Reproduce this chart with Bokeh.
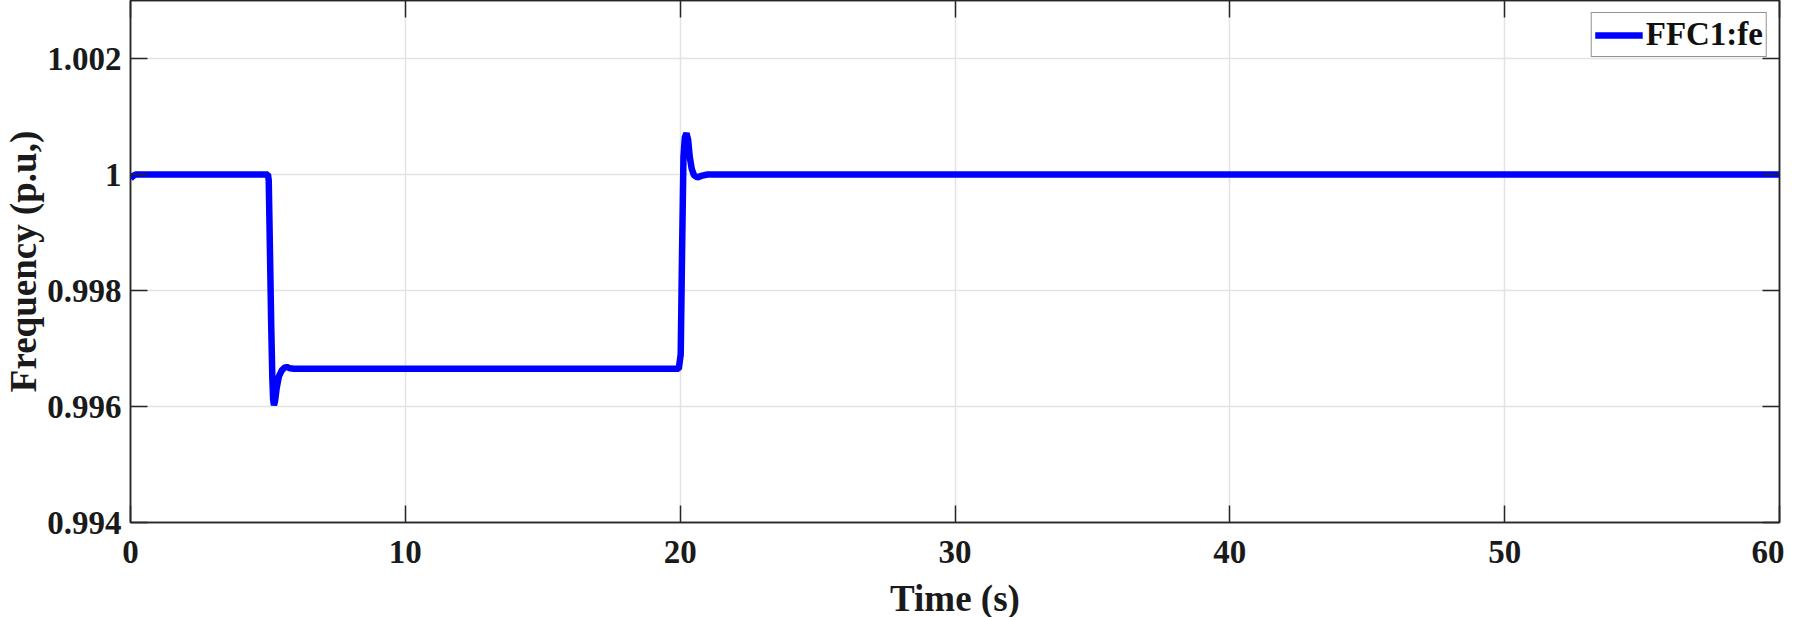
from bokeh.plotting import figure
from bokeh.models import Range1d, LinearAxis, FixedTicker, Legend, LegendItem
from bokeh.embed import file_html
from bokeh.resources import INLINE

# ---- data ----
time_s = [0.0, 0.1, 0.2, 5.0, 5.03, 5.07, 5.12, 5.16, 5.19, 5.22, 5.26, 5.32, 5.40,
          5.50, 5.60, 5.69, 5.80, 5.95, 8.0, 12.0, 16.0, 19.95, 20.02, 20.07, 20.12,
          20.17, 20.23, 20.29, 20.35, 20.42, 20.50, 20.62, 20.80, 21.0, 25.0, 30.0,
          40.0, 50.0, 60.0]
freq_pu = [0.99993, 0.99998, 1.0, 1.0, 0.99990, 0.99880, 0.99740, 0.99650, 0.99612,
           0.99602, 0.99610, 0.99632, 0.99652, 0.99662, 0.99667, 0.99668, 0.99666,
           0.99665, 0.99665, 0.99665, 0.99665, 0.99665, 0.99690, 0.99870, 1.00030,
           1.00064, 1.00071, 1.00060, 1.00030, 1.00010, 0.99999, 0.99995, 0.99998,
           1.0, 1.0, 1.0, 1.0, 1.0, 1.0]
series_name = "FFC1:fe"
x_ticks = [0, 10, 20, 30, 40, 50, 60]
y_ticks = [0.994, 0.996, 0.998, 1.0, 1.002]
y_tick_labels = ["0.994", "0.996", "0.998", "1", "1.002"]

FONT = "Liberation Serif"
AX = "#262626"

p = figure(width=1784, height=621, output_backend="svg",
           toolbar_location=None,
           x_range=Range1d(0, 60), y_range=Range1d(0.994, 1.003),
           min_border_left=0, min_border_right=5, min_border_top=0, min_border_bottom=0)

p.background_fill_color = "white"
p.border_fill_color = "white"
p.outline_line_color = AX
p.outline_line_width = 1.5

r = p.line(time_s, freq_pu, line_color="#0000ff", line_width=6.5)

def style_axis(ax, show_labels=True):
    ax.axis_line_color = AX
    ax.axis_line_width = 1.5
    ax.major_tick_line_color = AX
    ax.major_tick_line_width = 1.5
    ax.major_tick_in = 17
    ax.major_tick_out = 0
    ax.minor_tick_line_color = None
    if show_labels:
        ax.major_label_text_font = FONT
        ax.major_label_text_font_style = "bold"
        ax.major_label_text_font_size = "33px"
        ax.major_label_text_color = "#1a1a1a"
        ax.axis_label_text_font = FONT
        ax.axis_label_text_font_style = "bold"
        ax.axis_label_text_font_size = "37px"
        ax.axis_label_text_color = "#1a1a1a"
    else:
        ax.major_label_text_font_size = "1px"
        ax.major_label_text_color = None
        ax.major_label_standoff = 0
        ax.axis_label = None

xa = p.xaxis[0]
xa.ticker = FixedTicker(ticks=x_ticks)
xa.axis_label = "Time (s)"
style_axis(xa)
xa.major_label_standoff = 18
xa.axis_label_standoff = 12

ya = p.yaxis[0]
ya.ticker = FixedTicker(ticks=y_ticks)
ya.major_label_overrides = dict(zip(y_ticks, y_tick_labels))
ya.axis_label = "Frequency (p.u,)"
style_axis(ya)
ya.major_label_standoff = 9
ya.axis_label_standoff = 0

top_ax = LinearAxis(ticker=FixedTicker(ticks=x_ticks))
style_axis(top_ax, show_labels=False)
p.add_layout(top_ax, "above")
right_ax = LinearAxis(ticker=FixedTicker(ticks=y_ticks))
style_axis(right_ax, show_labels=False)
p.add_layout(right_ax, "right")

p.xgrid.ticker = FixedTicker(ticks=x_ticks)
p.ygrid.ticker = FixedTicker(ticks=y_ticks)
p.grid.grid_line_color = "#e3e3e3"
p.grid.grid_line_width = 1.5

legend = Legend(items=[LegendItem(label=series_name, renderers=[r])],
                location="top_right")
legend.label_text_font = FONT
legend.label_text_font_style = "bold"
legend.label_text_font_size = "33px"
legend.label_text_color = "#111111"
legend.border_line_color = AX
legend.border_line_width = 1.2
legend.glyph_width = 48
legend.glyph_height = 28
legend.label_standoff = 3
legend.padding = 3
legend.margin = 12
legend.spacing = 0
legend.label_height = 28
p.add_layout(legend)

open("out.html", "w").write(file_html(p, INLINE))
